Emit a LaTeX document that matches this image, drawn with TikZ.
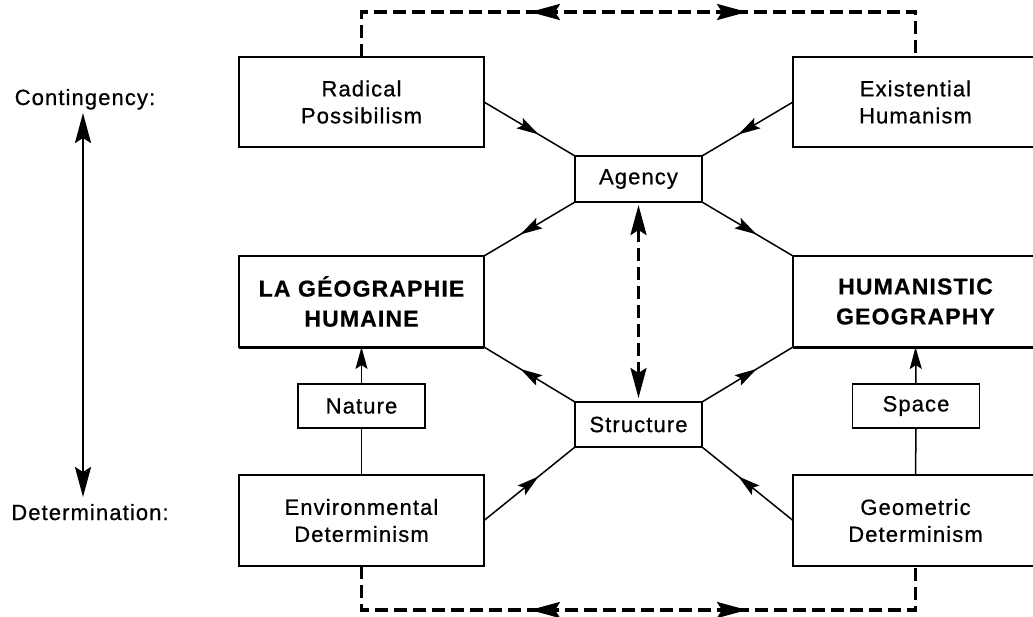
\documentclass[tikz,border=0pt]{standalone}
\usepackage{fontspec}
\setmainfont{Liberation Sans}
\newfontfamily\lsreg{Liberation Sans}[LetterSpace=5,FakeBold=0.7]
\newfontfamily\lsbold{Liberation Sans Bold}[LetterSpace=5,FakeBold=0.6]
\newcommand{\myreg}{\lsreg\fontsize{22}{27}\selectfont}
\newcommand{\mybold}{\lsbold\fontsize{23}{30}\selectfont}
\usetikzlibrary{arrows.meta,decorations.markings,calc}
\begin{document}
\begin{tikzpicture}[x=1pt,y=-1pt,
  box/.style={draw,line width=1.5pt,inner sep=0pt,outer sep=0pt,align=center,font=\myreg},
  bigbox/.style={box,minimum width=245pt,minimum height=90pt},
  smallbox/.style={box,minimum width=127pt,minimum height=45pt},
  boldbox/.style={bigbox,font=\mybold},
  lbl/.style={inner sep=0pt,anchor=base,font=\myreg},
  conn/.style={line width=1.5pt},
  tipsmall/.tip={Stealth[length=22pt,width=12pt,inset=4pt]},
  tipbig/.tip={Stealth[length=30pt,width=16pt,inset=5pt]},
  midarrow/.style={conn,postaction={decorate},decoration={markings,mark=at position 0.6 with {\arrow{tipsmall}}}},
  dashline/.style={line width=3.2pt,dash pattern=on 13pt off 6pt},
]
\useasboundingbox (0,0) rectangle (1033,616);
\clip (0,0) rectangle (1033,616);

% boxes
\node[bigbox] (rp) at (361.5,102) {Radical\\Possibilism};
\node[bigbox] (eh) at (915.5,102) {Existential\\Humanism};
\node[smallbox,minimum height=46pt] (agency) at (638.5,179) {Agency};
\node[boldbox,minimum height=91pt] (lgh) at (361.5,301.5) {LA GÉOGRAPHIE\\HUMAINE};
\node[boldbox,minimum height=91pt] (hg) at (915.5,301.5) {HUMANISTIC\\GEOGRAPHY};
\node[smallbox,minimum height=44pt] (nature) at (361.5,406) {Nature};
\node[smallbox,minimum height=44pt] (space) at (916,406) {Space};
\node[smallbox] (structure) at (638.5,424.5) {Structure};
\node[bigbox,minimum height=91pt] (ed) at (361.5,520.5) {Environmental\\Determinism};
\node[bigbox,minimum height=91pt] (gd) at (915.5,520.5) {Geometric\\Determinism};

% thick bottom borders
\draw[line width=3pt] (lgh.south west) -- (lgh.south east);
\draw[line width=3pt] (hg.south west) -- (hg.south east);

% labels
\node[lbl] (cont) at (85,105) {Contingency:};
\node[lbl] (det) at (90,520) {Determination:};
\coordinate (ctop) at (83,113);
\coordinate (cbot) at (83,497);
\draw[line width=2.6pt,tipbig-tipbig] (cbot) -- (ctop);

% diagonal connectors
\draw[midarrow] (rp.east) -- (agency.north west);
\draw[midarrow] (eh.west) -- (agency.north east);
\draw[midarrow] (agency.south west) -- (lgh.north east);
\draw[midarrow] (agency.south east) -- (hg.north west);
\draw[midarrow] (structure.north west) -- (lgh.south east);
\draw[midarrow] (structure.north east) -- (hg.south west);
\draw[midarrow] (ed.east) -- (structure.south west);
\draw[midarrow] (gd.west) -- (structure.south east);

% vertical connectors
\draw[conn,-tipsmall] (nature.north) -- (lgh.south);
\draw[conn] (nature.south) -- (ed.north);
\draw[conn,-tipsmall] (space.north) -- (hg.south);
\draw[conn] (space.south) -- (gd.north);

% dashed agency-structure
\draw[dashline,tipbig-tipbig,shorten <=3pt,shorten >=4pt] (agency.south) -- (structure.north);

% dashed top and bottom loops
\coordinate (tl) at (361.5,12);
\coordinate (tr) at (915.5,12);
\coordinate (bl) at (361.5,610);
\coordinate (br) at (915.5,610);
\draw[dashline,postaction={decorate},decoration={markings,
  mark=at position 213.5pt with {\pgfsetdash{}{0pt}\arrowreversed{tipbig}},
  mark=at position 430.5pt with {\pgfsetdash{}{0pt}\arrow{tipbig}}}]
  (rp.north) -- (tl) -- (tr) -- (eh.north);
\draw[dashline,postaction={decorate},decoration={markings,
  mark=at position 212.5pt with {\pgfsetdash{}{0pt}\arrowreversed{tipbig}},
  mark=at position 429.5pt with {\pgfsetdash{}{0pt}\arrow{tipbig}}}]
  (ed.south) -- (bl) -- (br) -- (gd.south);
\end{tikzpicture}
\end{document}
